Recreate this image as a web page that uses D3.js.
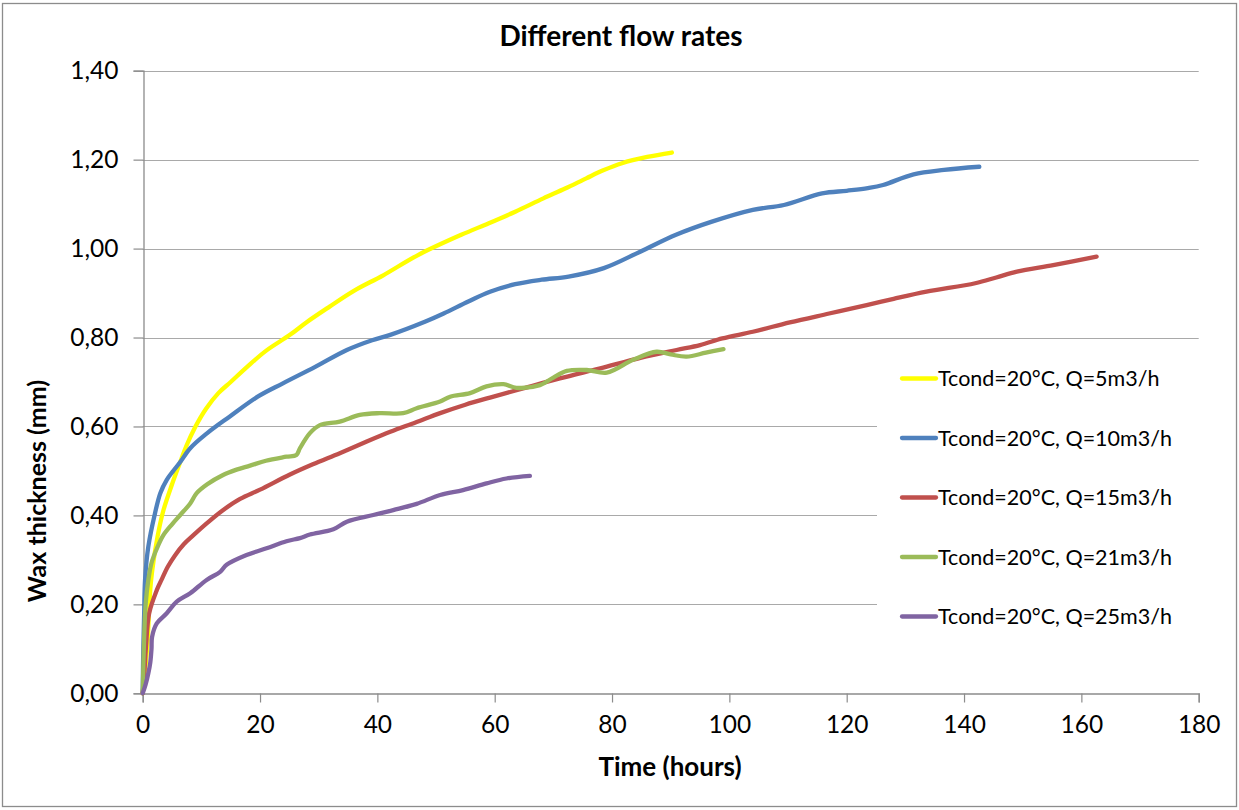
<!DOCTYPE html>
<html>
<head>
<meta charset="utf-8">
<script src="https://cdn.jsdelivr.net/npm/d3@7"></script>
<style>
  html, body { margin: 0; padding: 0; background: #fff; }
  svg { display: block; font-family: Lato, "Open Sans", sans-serif; }
</style>
</head>
<body>
<svg id="chart" width="1239" height="810"></svg>
<script>
// Wax thickness (mm) versus time (hours), one series per flow rate
const q5 = [[0,0],[0.4,0.05],[0.8,0.11],[1.4,0.25],[2.5,0.35],[3.5,0.41],[5,0.47],[6.4,0.52],[7.4,0.555],[9,0.6],[10.8,0.64],[12.9,0.675],[15,0.7],[17.8,0.734],[21,0.77],[25.1,0.806],[28,0.835],[31.8,0.869],[36,0.905],[41,0.94],[47,0.986],[54.3,1.031],[59,1.057],[63.5,1.083],[68.3,1.113],[72,1.135],[75.6,1.158],[78.5,1.176],[81.7,1.192],[86,1.206],[90.2,1.216]];
const q10 = [[0,0],[0.1,0.1],[0.25,0.18],[0.4,0.255],[0.96,0.33],[2.1,0.405],[3,0.45],[4.1,0.48],[5.2,0.5],[6.4,0.52],[8.1,0.551],[11,0.585],[14.8,0.622],[19.6,0.667],[23.9,0.697],[29.4,0.734],[34.8,0.772],[39.1,0.794],[42.2,0.806],[48.2,0.836],[51.3,0.854],[55.5,0.881],[59.2,0.903],[63.5,0.92],[68,0.93],[72.6,0.937],[78.6,0.956],[84.8,0.993],[90.9,1.031],[96.9,1.06],[104,1.087],[109.3,1.098],[115.8,1.124],[120,1.13],[123.6,1.136],[126.2,1.143],[131.4,1.167],[136.6,1.177],[142.6,1.184]];
const q15 = [[0,0],[0.3,0.05],[0.56,0.105],[1.1,0.18],[2.4,0.232],[3.2,0.255],[4.3,0.285],[5.5,0.31],[7,0.335],[8.6,0.355],[10.9,0.382],[13.5,0.41],[16.6,0.437],[20,0.458],[25.1,0.492],[29,0.515],[33.6,0.54],[38,0.565],[42.2,0.588],[46.5,0.609],[50.7,0.63],[55,0.649],[59.2,0.665],[65,0.686],[71.1,0.708],[78,0.731],[85,0.755],[91,0.772],[95,0.783],[98.8,0.798],[104,0.813],[110.3,0.834],[117,0.854],[123.4,0.873],[128,0.887],[133.6,0.903],[141.9,0.922],[145.5,0.935],[149,0.948],[155.2,0.963],[162.6,0.982]];
const q21 = [[0,0],[0.2,0.105],[0.5,0.2],[0.96,0.255],[1.5,0.293],[2.4,0.325],[3.5,0.355],[5,0.38],[6.4,0.401],[8.1,0.427],[9.2,0.45],[11,0.47],[13.7,0.491],[16,0.503],[18.3,0.512],[21,0.523],[24.5,0.532],[26.2,0.536],[26.8,0.551],[28.5,0.585],[30.2,0.603],[33.6,0.611],[37,0.626],[40.4,0.63],[44.4,0.63],[46.7,0.641],[50.7,0.656],[52.4,0.667],[55.8,0.675],[58.6,0.69],[61.5,0.695],[63.7,0.687],[67.7,0.693],[70,0.71],[72.3,0.725],[75.7,0.727],[79.1,0.721],[83.6,0.75],[87.6,0.768],[90,0.762],[92.7,0.757],[96,0.766],[99,0.774]];
const q25 = [[0,0],[0.5,0.02],[0.96,0.045],[1.3,0.07],[1.5,0.1],[1.6,0.127],[2.4,0.157],[4.1,0.18],[5.8,0.206],[8.1,0.225],[10.9,0.255],[13.2,0.273],[14.3,0.289],[17.7,0.311],[21.1,0.326],[24.5,0.342],[26.8,0.349],[28.5,0.357],[32.5,0.369],[34.8,0.386],[39.3,0.401],[42.7,0.412],[46.7,0.426],[50.7,0.446],[54.6,0.457],[58.6,0.472],[62,0.483],[66,0.489]];

const seriesNames = ["Tcond=20°C, Q=5m3/h", "Tcond=20°C, Q=10m3/h", "Tcond=20°C, Q=15m3/h", "Tcond=20°C, Q=21m3/h", "Tcond=20°C, Q=25m3/h"];
const seriesColors = ["#FFFF00", "#4F81BD", "#C0504D", "#9BBB59", "#8064A2"];
const xTicks = [0, 20, 40, 60, 80, 100, 120, 140, 160, 180];
const yTicks = [0, 0.2, 0.4, 0.6, 0.8, 1.0, 1.2, 1.4];

const titleText = "Different flow rates";
const xTitle = "Time (hours)";
const yTitle = "Wax thickness (mm)";

const series = [q5, q10, q15, q21, q25].map((pts, i) => ({ name: seriesNames[i], color: seriesColors[i], pts }));

const svg = d3.select("#chart");
const W = 1239, H = 810;
const plot = { left: 142.7, right: 1198.7, top: 70.7, bottom: 693.3 };

const x = d3.scaleLinear().domain([0, 180]).range([plot.left, plot.right]);
const y = d3.scaleLinear().domain([0, 1.4]).range([plot.bottom, plot.top]);

const locale = d3.formatLocale({ decimal: ",", thousands: ".", grouping: [3], currency: ["", "€"] });
const fmtY = locale.format(".2f");

// outer frame
svg.append("rect")
  .attr("x", 2.5).attr("y", 3.5).attr("width", W - 5).attr("height", H - 7)
  .attr("fill", "#fff").attr("stroke", "#8c8c8c").attr("stroke-width", 1.3);

// horizontal gridlines
svg.append("g")
  .selectAll("line")
  .data(yTicks.filter(d => d > 0))
  .join("line")
  .attr("x1", plot.left).attr("x2", plot.right)
  .attr("y1", d => Math.round(y(d)) + 0.5).attr("y2", d => Math.round(y(d)) + 0.5)
  .attr("stroke", "#a9a9a9").attr("stroke-width", 1.2);

// y axis
const yAxis = svg.append("g")
  .attr("transform", `translate(${Math.round(plot.left) + 0.5},0)`)
  .call(d3.axisLeft(y).tickValues(yTicks).tickFormat(fmtY).tickSize(10).tickPadding(15));
yAxis.select(".domain").attr("stroke", "#8c8c8c").attr("stroke-width", 1.3);
yAxis.selectAll(".tick line").attr("stroke", "#8c8c8c").attr("stroke-width", 1.2);
yAxis.selectAll(".tick text").attr("font-size", 24.5).attr("fill", "#000")
  .attr("font-family", "Lato, sans-serif");

// x axis
const xAxis = svg.append("g")
  .attr("transform", `translate(0,${Math.round(plot.bottom) + 0.5})`)
  .call(d3.axisBottom(x).tickValues(xTicks).tickFormat(d3.format("d")).tickSize(9).tickPadding(13));
xAxis.select(".domain").attr("stroke", "#8c8c8c").attr("stroke-width", 1.3);
xAxis.selectAll(".tick line").attr("stroke", "#8c8c8c").attr("stroke-width", 1.2);
xAxis.selectAll(".tick text").attr("font-size", 24.5).attr("fill", "#000")
  .attr("font-family", "Lato, sans-serif");

// legend background (covers gridlines behind it)
const legend = svg.append("g");
legend.append("rect")
  .attr("x", 877).attr("y", 348).attr("width", 322).attr("height", 300)
  .attr("fill", "#fff");

// series lines
const line = d3.line()
  .x(d => x(d[0]))
  .y(d => y(d[1]))
  .curve(d3.curveCatmullRom.alpha(0.5));

svg.append("g")
  .selectAll("path")
  .data(series)
  .join("path")
  .attr("d", d => line(d.pts))
  .attr("fill", "none")
  .attr("stroke", d => d.color)
  .attr("stroke-width", 4.3)
  .attr("stroke-linecap", "round")
  .attr("stroke-linejoin", "round");

// legend entries
const rows = legend.selectAll("g.item")
  .data(series)
  .join("g")
  .attr("class", "item")
  .attr("transform", (d, i) => `translate(0,${378.5 + i * 59.5})`);
rows.append("line")
  .attr("x1", 902).attr("x2", 936).attr("y1", 0).attr("y2", 0)
  .attr("stroke", d => d.color).attr("stroke-width", 4.3).attr("stroke-linecap", "round");
rows.append("text")
  .attr("x", 938).attr("y", 0).attr("dy", "0.35em")
  .attr("font-size", 21.5).attr("fill", "#000")
  .text(d => d.name);

// title and axis titles
svg.append("text")
  .attr("x", 621).attr("y", 46)
  .attr("text-anchor", "middle")
  .attr("font-size", 28).attr("font-weight", "bold")
  .text(titleText);

svg.append("text")
  .attr("x", 670).attr("y", 776)
  .attr("text-anchor", "middle")
  .attr("font-size", 26).attr("font-weight", "bold")
  .text(xTitle);

svg.append("text")
  .attr("transform", "translate(46,491) rotate(-90)")
  .attr("text-anchor", "middle")
  .attr("font-size", 25).attr("font-weight", "bold")
  .text(yTitle);
</script>
</body>
</html>
